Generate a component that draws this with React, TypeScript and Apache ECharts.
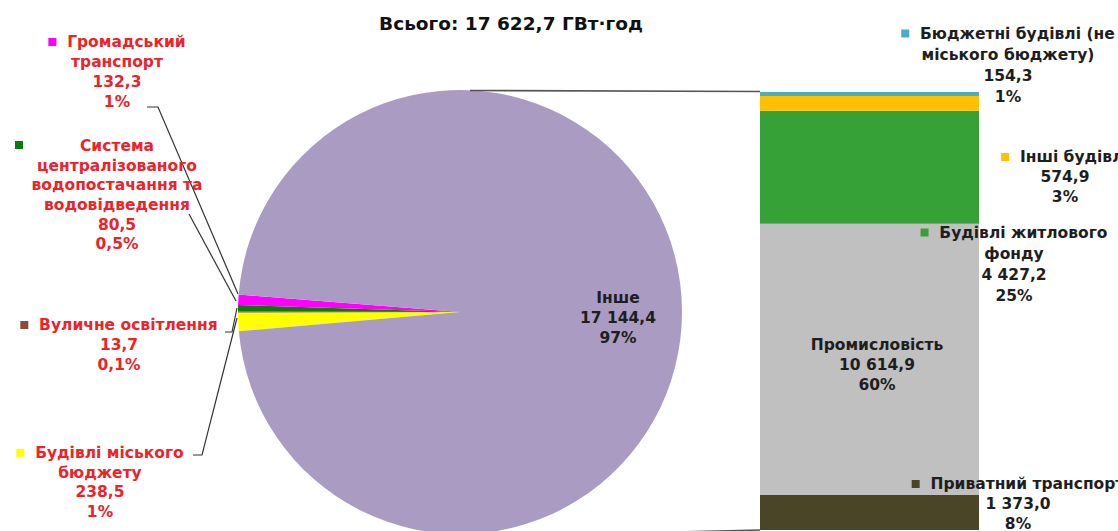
import React, { useEffect, useRef } from 'react';
import * as echarts from 'echarts';

// ---- data ----
const titleText = 'Всього: 17 622,7 ГВт·год';

const pieNames = [
  'Будівлі міського\nбюджету',
  'Вуличне освітлення',
  'Система\nцентралізованого\nводопостачання та\nводовідведення',
  'Громадський\nтранспорт',
  'Інше',
];
const pieValues = [238.5, 13.7, 80.5, 132.3, 17144.4];
const piePercents = ['1%', '0,1%', '0,5%', '1%', '97%'];

const barNames = [
  'Приватний транспорт',
  'Промисловість',
  'Будівлі житлового\nфонду',
  'Інші будівлі',
  'Бюджетні будівлі (не\nміського бюджету)',
];
const barValues = [1373.0, 10614.9, 4427.2, 574.9, 154.3];
const barPercents = ['8%', '60%', '25%', '3%', '1%'];

// ---- styles / layout ----
const pieColors = ['#FFFF00', '#8E4B3B', '#0B7A0B', '#FF00FF', '#A99BC2'];
const barColors = ['#4B4528', '#C0C0C0', '#36A136', '#FFC000', '#4BACC6'];
const RED = '#EE2229';
const DARK = '#1E1E1E';
const FONT = 'bold 15.5px "DejaVu Sans"';

// label placement for pie items (same order as pie arrays)
const pieLabelLayout = [
  { cx: 100, top: 443, lh: 19.7, fill: RED, inlineMarker: true },
  { cx: 119, top: 315, lh: 20, fill: RED, inlineMarker: true },
  { cx: 117, top: 136, lh: 19.7, fill: RED, inlineMarker: false, mx: 15, my: 141 },
  { cx: 117, top: 32, lh: 20, fill: RED, inlineMarker: true },
  { cx: 618, top: 288, lh: 20, fill: DARK, noMarker: true },
];
const pieLeaderLines = [
  [[193, 455], [202, 455], [237, 318]],
  [[225, 332], [232, 332], [237, 308]],
  [[189, 214], [236, 301]],
  [[147, 107], [158, 107], [238, 294]],
];
// label placement for bar items (same order as bar arrays)
const barLabelLayout = [
  { cx: 1018, top: 474, lh: 20, fill: DARK, inlineMarker: true },
  { cx: 877, top: 335, lh: 20, fill: DARK, noMarker: true },
  { cx: 1014, top: 222, lh: 21, fill: DARK, inlineMarker: true },
  { cx: 1065, top: 147, lh: 20, fill: DARK, inlineMarker: true },
  { cx: 1008, top: 23, lh: 21, fill: DARK, inlineMarker: true },
];

function fmt(v: number): string {
  const s = v.toFixed(1);
  const [i, d] = s.split('.');
  return i.replace(/\B(?=(\d{3})+(?!\d))/g, ' ') + ',' + d;
}

function makeLabel(name: string, value: number, pct: string, color: string, lay: any): any[] {
  const lines = [...name.split('\n'), fmt(value), pct];
  const els: any[] = [];
  if (lay.inlineMarker) lines[0] = '{m|}  ' + lines[0];
  els.push({
    type: 'text',
    x: lay.cx,
    y: lay.top,
    z: 100,
    silent: true,
    style: {
      text: lines.join('\n'),
      align: 'center',
      verticalAlign: 'top',
      lineHeight: lay.lh,
      fill: lay.fill,
      font: FONT,
      rich: { m: { width: 8, height: 8, backgroundColor: color } },
    },
  });
  if (!lay.inlineMarker && !lay.noMarker) {
    els.push({
      type: 'rect',
      z: 100,
      silent: true,
      shape: { x: lay.mx, y: lay.my, width: 8, height: 8 },
      style: { fill: color },
    });
  }
  return els;
}

export default function App() {
  const ref = useRef<HTMLDivElement>(null);
  useEffect(() => {
    if (!ref.current) return;
    const chart = echarts.init(ref.current, undefined, { renderer: 'svg' });
    const barTotal = barValues.reduce((a, b) => a + b, 0);

    const graphics: any[] = [];
    graphics.push({
      type: 'text',
      x: 511,
      y: 23,
      z: 100,
      silent: true,
      style: {
        text: titleText,
        align: 'center',
        verticalAlign: 'middle',
        fill: '#111',
        font: 'bold 18.5px "DejaVu Sans"',
      },
    });
    // connector lines pie -> bar
    graphics.push({
      type: 'line',
      z: 100,
      silent: true,
      shape: { x1: 470, y1: 90.5, x2: 760, y2: 91.5 },
      style: { stroke: '#555', lineWidth: 1.6 },
    });
    graphics.push({
      type: 'line',
      z: 100,
      silent: true,
      shape: { x1: 470, y1: 537, x2: 760, y2: 530 },
      style: { stroke: '#555', lineWidth: 1.6 },
    });
    pieLeaderLines.forEach((pts) => {
      graphics.push({
        type: 'polyline',
        z: 100,
        silent: true,
        shape: { points: pts },
        style: { stroke: '#333', lineWidth: 1.2, fill: null },
      });
    });
    pieNames.forEach((n, i) => {
      graphics.push(...makeLabel(n, pieValues[i], piePercents[i], pieColors[i], pieLabelLayout[i]));
    });
    barNames.forEach((n, i) => {
      graphics.push(...makeLabel(n, barValues[i], barPercents[i], barColors[i], barLabelLayout[i]));
    });

    chart.setOption({
      animation: false,
      backgroundColor: '#ffffff',
      grid: { left: 760, top: 92, width: 219, height: 438 },
      xAxis: { type: 'category', data: [''], show: false },
      yAxis: { type: 'value', min: 0, max: barTotal, show: false },
      series: [
        {
          type: 'pie',
          center: [460, 312],
          radius: 222,
          startAngle: 185,
          clockwise: true,
          silent: true,
          label: { show: false },
          labelLine: { show: false },
          itemStyle: { borderWidth: 0 },
          data: pieValues.map((v, i) => ({
            value: v,
            name: pieNames[i].replace(/\n/g, ' '),
            itemStyle: { color: pieColors[i] },
          })),
        },
        ...barValues.map((v, i) => ({
          type: 'bar',
          name: barNames[i].replace(/\n/g, ' '),
          stack: 'total',
          barWidth: '100%',
          silent: true,
          data: [v],
          itemStyle: { color: barColors[i] },
        })),
      ],
      graphic: graphics,
    });
    return () => chart.dispose();
  }, []);
  return (
    <div
      ref={ref}
      style={{ position: 'absolute', left: 0, top: 0, width: 1118, height: 531 }}
    />
  );
}
